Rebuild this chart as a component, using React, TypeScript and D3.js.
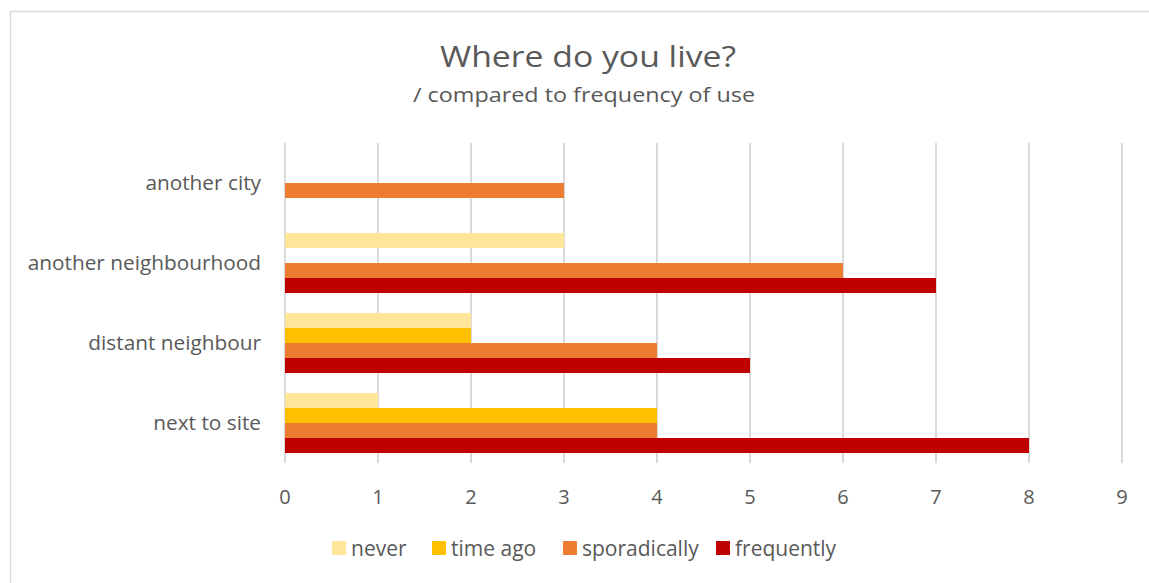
import React from "react";
import * as d3 from "d3";

const categories = ["another city", "another neighbourhood", "distant neighbour", "next to site"];
const seriesNames = ["never", "time ago", "sporadically", "frequently"];
const seriesColors = ["#FFE699", "#FFC000", "#ED7D31", "#C00000"];
const neverVals = [0, 3, 2, 1];
const timeAgoVals = [0, 0, 2, 4];
const sporadicallyVals = [3, 6, 4, 4];
const frequentlyVals = [0, 7, 5, 8];
const xTicks = [0, 1, 2, 3, 4, 5, 6, 7, 8, 9];

const W = 1149;
const H = 583;
const FONT = "'Open Sans', sans-serif";
const TXT = "#595959";

export default function App() {
  const values = [neverVals, timeAgoVals, sporadicallyVals, frequentlyVals];
  const x = d3.scaleLinear().domain([0, 9]).range([285, 1122]);
  const y = d3.scaleBand<string>().domain(categories).range([143, 463]).paddingInner(0.25).paddingOuter(0.125);
  const yInner = d3.scaleBand<string>().domain(seriesNames).range([0, y.bandwidth()]);

  const legendItems = [
    { name: "never", x: 332 },
    { name: "time ago", x: 432 },
    { name: "sporadically", x: 563 },
    { name: "frequently", x: 716 },
  ];

  return (
    <svg width={W} height={H} style={{ position: "absolute", left: 0, top: 0, background: "#fff" }}>
      <rect x={10.5} y={11.5} width={W + 10} height={H + 10} fill="#fff" stroke="#d9d9d9" strokeWidth={1.5} />
      <text x={588} y={67} textAnchor="middle" fontFamily={FONT} fontSize={30} fill={TXT} textLength={296} lengthAdjust="spacingAndGlyphs">
        Where do you live?
      </text>
      <text x={584} y={102} textAnchor="middle" fontFamily={FONT} fontSize={20} fill={TXT} textLength={342} lengthAdjust="spacingAndGlyphs">
        / compared to frequency of use
      </text>
      {xTicks.map((t) => (
        <g key={t}>
          <line x1={x(t)} x2={x(t)} y1={143} y2={463} stroke="#d9d9d9" strokeWidth={2} />
          <text x={x(t)} y={504} textAnchor="middle" fontFamily={FONT} fontSize={20} fill={TXT}>
            {t}
          </text>
        </g>
      ))}
      {categories.map((c, ci) => (
        <g key={c}>
          {seriesNames.map((s, si) => {
            const v = values[si][ci];
            if (!v) return null;
            return (
              <rect
                key={s}
                x={x(0)}
                y={(y(c) as number) + (yInner(s) as number)}
                width={x(v) - x(0)}
                height={yInner.bandwidth()}
                fill={seriesColors[si]}
              />
            );
          })}
          <text
            x={261}
            y={(y(c) as number) + y.bandwidth() / 2 + 7}
            textAnchor="end"
            fontFamily={FONT}
            fontSize={20.8}
            fill={TXT}
          >
            {c}
          </text>
        </g>
      ))}
      {legendItems.map((l, i) => (
        <g key={l.name}>
          <rect x={l.x} y={541} width={14} height={14} fill={seriesColors[i]} />
          <text x={l.x + 19} y={556} fontFamily={FONT} fontSize={21} fill={TXT}>
            {l.name}
          </text>
        </g>
      ))}
    </svg>
  );
}
